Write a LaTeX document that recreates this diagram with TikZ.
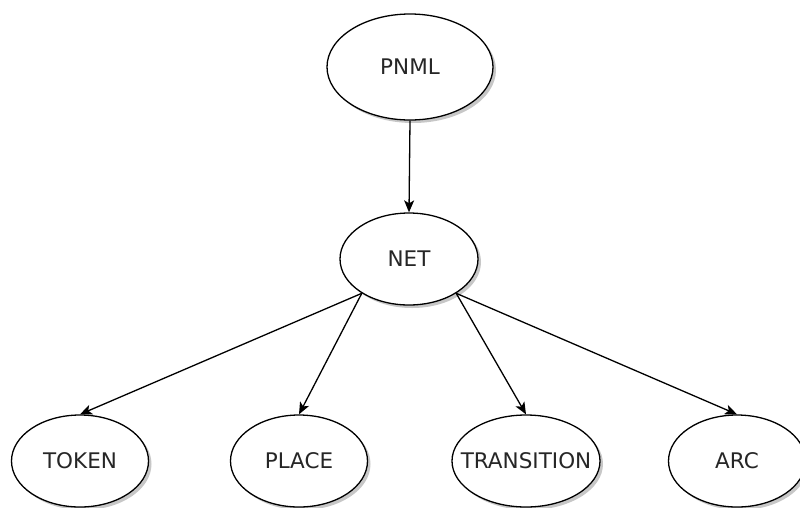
\documentclass[tikz,border=0pt]{standalone}
\usepackage{fontspec}
\setmainfont{DejaVu Sans}
\usetikzlibrary{arrows.meta,shadows,shapes.geometric}
\newcommand{\lbl}[1]{\makebox[0pt][c]{#1}}
\begin{document}
\begin{tikzpicture}[x=1pt,y=-1pt,
  elem/.style={ellipse, draw=black, line width=1.3pt, fill=white, inner sep=0pt,
    font=\fontsize{21.5}{25}\selectfont, text=black!85,
    drop shadow={shadow xshift=3pt, shadow yshift=-3pt, opacity=0.22, fill=black}},
  link/.style={draw=black, line width=1.3pt, -{Stealth[length=12pt, width=10pt, inset=3pt]}}
]
\useasboundingbox (0,0) rectangle (800,507);
\fill[white] (0,0) rectangle (800,507);

% root and net
\node[elem, minimum width=166pt, minimum height=106pt] (pnml) at (410,67) {\lbl{PNML}};
\node[elem, minimum width=138pt, minimum height=92pt] (net) at (409,259) {\lbl{NET}};

% element types
\node[elem, minimum width=137pt, minimum height=92pt] (token) at (80,461) {\lbl{TOKEN}};
\node[elem, minimum width=137pt, minimum height=92pt] (place) at (299,461) {\lbl{PLACE}};
\node[elem, minimum width=148pt, minimum height=92pt] (transition) at (526,461) {\lbl{TRANSITION}};
\node[elem, minimum width=137pt, minimum height=92pt] (arc) at (737,461) {\lbl{ARC}};

% connectors
\draw[link] (pnml.south) -- (net.north);
\draw[link] (net.-144) -- (token.north);
\draw[link] (net.-144) -- (place.north);
\draw[link] (net.-36) -- (transition.north);
\draw[link] (net.-36) -- (arc.north);
\end{tikzpicture}
\end{document}
